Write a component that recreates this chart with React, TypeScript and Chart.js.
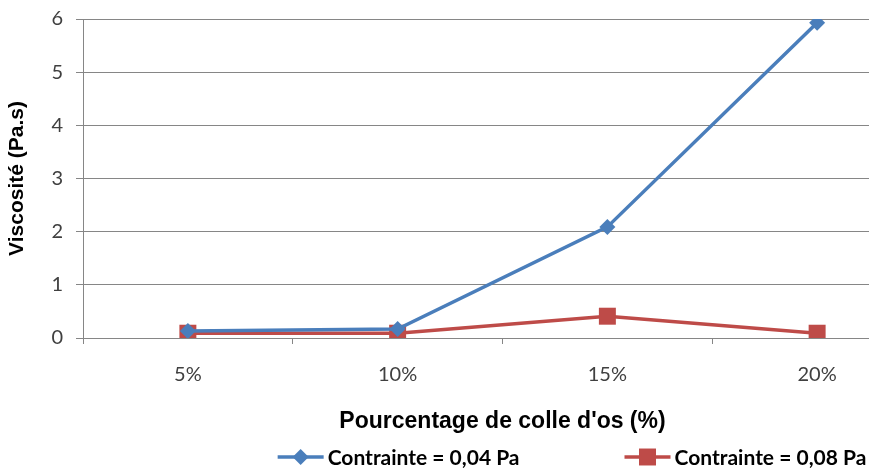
import React, { useEffect, useRef } from "react";
import { Chart, registerables } from "chart.js";

Chart.register(...registerables);

const categories = ["5%", "10%", "15%", "20%"];
const series1Label = "Contrainte = 0,04 Pa";
const series1 = [0.13, 0.17, 2.09, 5.93];
const series2Label = "Contrainte = 0,08 Pa";
const series2 = [0.09, 0.09, 0.41, 0.09];
const yTicks = [0, 1, 2, 3, 4, 5, 6];
const yTitle = "Viscosité (Pa.s)";
const xTitle = "Pourcentage de colle d'os (%)";

const BLUE = "#4A7EBB";
const RED = "#BE4B48";
const GRID = "#868686";

const CANVAS_W = 1144;
const CANVAS_H = 470;

const legendPlugin = {
  id: "excelLegend",
  afterDraw(chart: any) {
    const ctx = chart.ctx;
    const items = chart.data.datasets.map((d: any) => ({
      text: d.label,
      color: d.borderColor,
      style: d.pointStyle,
      radius: d.pointRadius,
    }));
    ctx.save();
    ctx.font = "bold 21px Lato";
    const lineW = 46;
    const gap = 4;
    const itemGap = 105;
    const widths = items.map((it: any) => lineW + gap + ctx.measureText(it.text).width);
    const total = widths.reduce((a: number, b: number) => a + b, 0) + itemGap * (items.length - 1);
    let x = chart.width / 2 - total / 2;
    const y = 457;
    items.forEach((it: any, i: number) => {
      ctx.strokeStyle = it.color;
      ctx.lineWidth = 3.5;
      ctx.beginPath();
      ctx.moveTo(x, y);
      ctx.lineTo(x + lineW, y);
      ctx.stroke();
      ctx.fillStyle = it.color;
      const cx = x + lineW / 2;
      ctx.beginPath();
      if (it.style === "rect") {
        const s = it.radius * Math.SQRT1_2;
        ctx.rect(cx - s, y - s, 2 * s, 2 * s);
      } else {
        const r = it.radius;
        ctx.moveTo(cx, y - r);
        ctx.lineTo(cx + r, y);
        ctx.lineTo(cx, y + r);
        ctx.lineTo(cx - r, y);
        ctx.closePath();
      }
      ctx.fill();
      ctx.fillStyle = "#000";
      ctx.textAlign = "left";
      ctx.textBaseline = "middle";
      ctx.fillText(it.text, x + lineW + gap, y + 1);
      x += widths[i] + itemGap;
    });
    ctx.restore();
  },
};

export default function App() {
  const ref = useRef<HTMLCanvasElement | null>(null);
  useEffect(() => {
    if (!ref.current) return;
    const chart = new Chart(ref.current, {
      type: "line",
      data: {
        labels: categories,
        datasets: [
          {
            label: series1Label,
            data: series1,
            borderColor: BLUE,
            backgroundColor: BLUE,
            borderWidth: 3.5,
            pointStyle: "rectRot",
            pointRadius: 8,
            pointBorderWidth: 0,
            tension: 0,
          },
          {
            label: series2Label,
            data: series2,
            borderColor: RED,
            backgroundColor: RED,
            borderWidth: 3.5,
            pointStyle: "rect",
            pointRadius: 12,
            pointBorderWidth: 0,
            tension: 0,
          },
        ],
      },
      options: {
        animation: false,
        responsive: false,
        layout: {
          autoPadding: false,
          padding: { left: 0, top: 19, right: CANVAS_W - 922, bottom: 30 },
        },
        plugins: {
          legend: { display: false },
          tooltip: { enabled: false },
        },
        scales: {
          x: {
            type: "category",
            offset: true,
            afterFit: (s: any) => {
              s.height = 102;
            },
            grid: {
              offset: true,
              drawOnChartArea: false,
              color: GRID,
              tickLength: 6,
              tickColor: GRID,
            },
            border: { color: GRID, width: 1 },
            ticks: {
              color: "#404040",
              font: { family: "Lato", size: 20 },
              padding: 19,
              autoSkip: false,
              maxRotation: 0,
            },
            title: {
              display: true,
              text: xTitle,
              color: "#000",
              font: { family: "Liberation Sans", size: 23, weight: "bold" },
              padding: { top: 0, bottom: 5 },
            },
          },
          y: {
            min: 0,
            max: 6,
            afterFit: (s: any) => {
              s.width = 83;
              s.paddingTop = 0;
              s.paddingBottom = 0;
            },
            afterBuildTicks: (s: any) => {
              s.ticks = yTicks.map((v) => ({ value: v }));
            },
            grid: {
              color: GRID,
              tickLength: 7,
              tickColor: GRID,
            },
            border: { color: GRID, width: 1 },
            ticks: {
              color: "#404040",
              font: { family: "Lato", size: 20 },
              padding: 13,
            },
            title: {
              display: true,
              text: yTitle,
              color: "#000",
              font: { family: "Liberation Sans", size: 21, weight: "bold" },
              padding: { top: 5, bottom: 0 },
            },
          },
        },
      },
      plugins: [legendPlugin],
    });
    return () => chart.destroy();
  }, []);
  return (
    <div
      style={{
        position: "absolute",
        left: 0,
        top: 0,
        width: 869,
        height: 470,
        overflow: "hidden",
        background: "#fff",
      }}
    >
      <canvas ref={ref} width={CANVAS_W} height={CANVAS_H} style={{ display: "block" }} />
    </div>
  );
}
